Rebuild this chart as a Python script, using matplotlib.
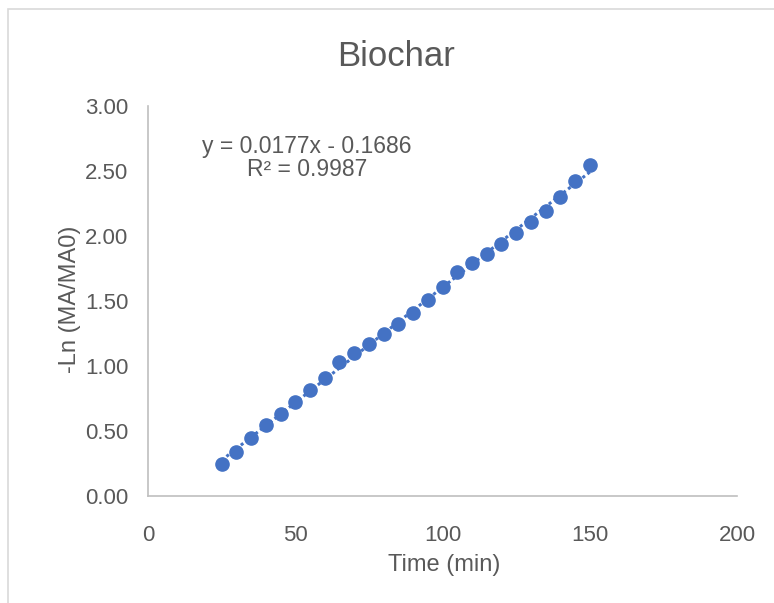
import numpy as np
import matplotlib
matplotlib.use("Agg")
import matplotlib.pyplot as plt
from matplotlib.patches import Rectangle

# Data
time_min = [25, 30, 35, 40, 45, 50, 55, 60, 65, 70, 75, 80, 85,
            90, 95, 100, 105, 110, 115, 120, 125, 130, 135, 140, 145, 150]
neg_ln = [0.25, 0.34, 0.45, 0.55, 0.63, 0.72, 0.815, 0.91, 1.03, 1.10, 1.17, 1.25, 1.32,
          1.41, 1.51, 1.61, 1.72, 1.79, 1.86, 1.94, 2.02, 2.11, 2.19, 2.30, 2.42, 2.55]
eq_text = "y = 0.0177x - 0.1686\nR\u00b2 = 0.9987"
title = "Biochar"
x_ticks = [0, 50, 100, 150, 200]
y_ticks = [0.0, 0.5, 1.0, 1.5, 2.0, 2.5, 3.0]

blue = "#4472C4"
txt = "#595959"
axc = "#BFBFBF"

plt.rcParams['font.family'] = ['Liberation Sans', 'DejaVu Sans']

fig = plt.figure(figsize=(7.74, 6.03), dpi=100)
fig.patches.append(Rectangle((8 / 774, -0.05), 1.2, 1.05 - 9 / 603,
                             transform=fig.transFigure, fill=False,
                             edgecolor="#D9D9D9", linewidth=1.2))
ax = fig.add_axes([148 / 774, 1 - 496 / 603, (737 - 148) / 774, (496 - 106) / 603])

# linear trendline (dotted)
coef = np.polyfit(time_min, neg_ln, 1)
xt = np.array([time_min[0], time_min[-1]])
ax.plot(xt, np.polyval(coef, xt), linestyle=(0, (1, 1)), color=blue, linewidth=2.2, zorder=2)
ax.plot(time_min, neg_ln, 'o', color=blue, markersize=9.5, zorder=3)

ax.set_xlim(0, 200)
ax.set_ylim(0, 3)
ax.set_xticks(x_ticks)
ax.set_yticks(y_ticks)
ax.set_yticklabels(["%.2f" % v for v in y_ticks])
ax.tick_params(length=0, labelsize=16, colors=txt)
ax.tick_params(axis='x', pad=21)
ax.tick_params(axis='y', pad=14)
for s in ["top", "right"]:
    ax.spines[s].set_visible(False)
for s in ["left", "bottom"]:
    ax.spines[s].set_color(axc)
    ax.spines[s].set_linewidth(1.2)

ax.set_xlabel("Time (min)", fontsize=17, color=txt)
ax.set_ylabel("-Ln (MA/MA0)", fontsize=17, color=txt)
ax.xaxis.set_label_coords(0.503, -0.148)
ax.yaxis.set_label_coords(-0.113, 0.504)

fig.text(396 / 774, 1 - 66 / 603, title, ha="center", va="baseline",
         fontsize=25, color=txt)

ax.text(54, 2.60, eq_text, ha="center", va="center", fontsize=16.5, color=txt,
        linespacing=0.95)

fig.savefig("out.png", dpi=100)
